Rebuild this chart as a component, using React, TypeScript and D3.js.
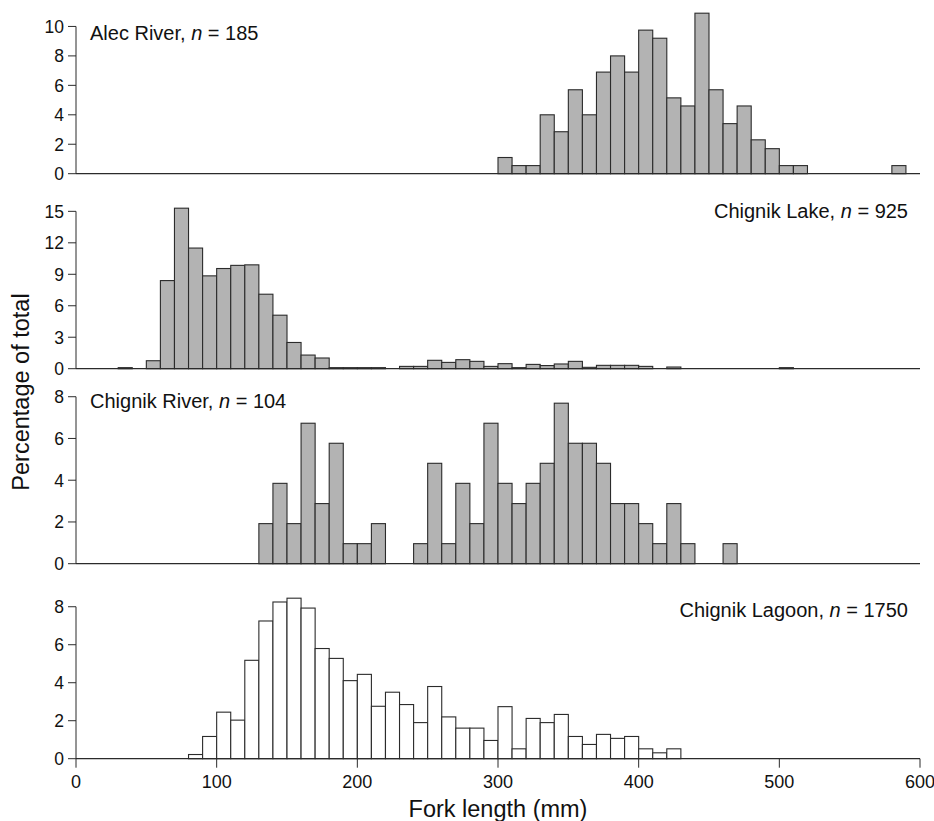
import React from 'react';
import * as d3 from 'd3';

// percent of fish per 10-mm fork-length bin, bins 0-10 ... 590-600
const alecRiver = [
  0, 0, 0, 0, 0, 0, 0, 0, 0, 0,
  0, 0, 0, 0, 0, 0, 0, 0, 0, 0,
  0, 0, 0, 0, 0, 0, 0, 0, 0, 0,
  1.1, 0.55, 0.55, 4.0, 2.85, 5.7, 4.0, 6.9, 8.0, 6.9,
  9.75, 9.2, 5.15, 4.6, 10.9, 5.7, 3.4, 4.6, 2.3, 1.7,
  0.55, 0.55, 0, 0, 0, 0, 0, 0, 0.55, 0,
];

const chignikLake = [
  0, 0, 0, 0.1, 0, 0.76, 8.4, 15.3, 11.5, 8.85,
  9.55, 9.85, 9.9, 7.1, 5.1, 2.5, 1.3, 1.02, 0.1, 0.1,
  0.1, 0.1, 0, 0.22, 0.22, 0.8, 0.6, 0.86, 0.7, 0.22,
  0.48, 0.1, 0.41, 0.3, 0.45, 0.7, 0.13, 0.32, 0.32, 0.32,
  0.22, 0, 0.16, 0, 0, 0, 0, 0, 0, 0,
  0.1, 0, 0, 0, 0, 0, 0, 0, 0, 0,
];

const chignikRiver = [
  0, 0, 0, 0, 0, 0, 0, 0, 0, 0,
  0, 0, 0, 1.92, 3.85, 1.92, 6.73, 2.88, 5.77, 0.96,
  0.96, 1.92, 0, 0, 0.96, 4.81, 0.96, 3.85, 1.92, 6.73,
  3.85, 2.88, 3.85, 4.81, 7.69, 5.77, 5.77, 4.81, 2.88, 2.88,
  1.92, 0.96, 2.88, 0.96, 0, 0, 0.96, 0, 0, 0,
  0, 0, 0, 0, 0, 0, 0, 0, 0, 0,
];

const chignikLagoon = [
  0, 0, 0, 0, 0, 0, 0, 0, 0.22, 1.17,
  2.45, 2.03, 5.18, 7.25, 8.25, 8.45, 7.93, 5.8, 5.28, 4.11,
  4.44, 2.76, 3.5, 2.85, 1.9, 3.8, 2.2, 1.61, 1.61, 0.96,
  2.74, 0.52, 2.12, 1.9, 2.33, 1.17, 0.75, 1.28, 1.07, 1.17,
  0.52, 0.31, 0.52, 0, 0, 0, 0, 0, 0, 0,
  0, 0, 0, 0, 0, 0, 0, 0, 0, 0,
];

const binWidth = 10;
const xTicks = [0, 100, 200, 300, 400, 500, 600];

const panels = [
  { name: 'Alec River', n: 185, values: alecRiver, ticks: [0, 2, 4, 6, 8, 10], fill: '#b3b3b3', align: 'left', labelY: 31 },
  { name: 'Chignik Lake', n: 925, values: chignikLake, ticks: [0, 3, 6, 9, 12, 15], fill: '#b3b3b3', align: 'right', labelY: 14 },
  { name: 'Chignik River', n: 104, values: chignikRiver, ticks: [0, 2, 4, 6, 8], fill: '#b3b3b3', align: 'left', labelY: 9 },
  { name: 'Chignik Lagoon', n: 1750, values: chignikLagoon, ticks: [0, 2, 4, 6, 8], fill: '#ffffff', align: 'right', labelY: 23 },
];

const W = 934;
const H = 821;
const firstBase = 173.7;
const panelStep = 195;
const panelH = 165;
const font = '"Liberation Sans", Arial, Helvetica, sans-serif';
const ink = '#2b2b2b';

export default function App() {
  const x = d3.scaleLinear().domain([0, 600]).range([76, 920]);
  const bottom = firstBase + 3 * panelStep;

  return (
    <svg width={W} height={H} style={{ position: 'absolute', left: 0, top: 0, background: '#fff' }}
      fontFamily={font}>
      {panels.map((p, pi) => {
        const base = firstBase + pi * panelStep;
        const y = d3.scaleLinear()
          .domain([0, (d3.max(p.values) as number) * 1.028])
          .range([base, base - panelH]);
        const top = base - panelH;
        const tLast = p.ticks[p.ticks.length - 1];
        return (
          <g key={p.name}>
            {p.values.map((v, i) => v > 0 && (
              <rect key={i}
                x={x(i * binWidth)} y={y(v)}
                width={x((i + 1) * binWidth) - x(i * binWidth)}
                height={y(0) - y(v)}
                fill={p.fill} stroke={ink} strokeWidth={1.1} />
            ))}
            {/* baseline */}
            <line x1={x(0)} x2={x(600)} y1={y(0)} y2={y(0)} stroke={ink} strokeWidth={1.2} />
            {/* y axis */}
            <line x1={x(0)} x2={x(0)} y1={y(0)} y2={y(tLast)} stroke={ink} strokeWidth={1} />
            {p.ticks.map(t => (
              <g key={t}>
                <line x1={x(0) - 8} x2={x(0)} y1={y(t)} y2={y(t)} stroke={ink} strokeWidth={1} />
                <text x={x(0) - 12} y={y(t)} dy="0.36em" textAnchor="end" fontSize={17.5} fill="#111">{t}</text>
              </g>
            ))}
            <text
              x={p.align === 'left' ? 90 : 908}
              y={top + p.labelY}
              textAnchor={p.align === 'left' ? 'start' : 'end'}
              fontSize={20} fill="#111">
              {p.name}, <tspan fontStyle="italic">n</tspan> = {p.n}
            </text>
          </g>
        );
      })}
      {xTicks.map(t => (
        <g key={t}>
          <line x1={x(t)} x2={x(t)} y1={bottom} y2={bottom + 9} stroke={ink} strokeWidth={1} />
          <text x={x(t)} y={bottom + 29} textAnchor="middle" fontSize={18} fill="#111">{t}</text>
        </g>
      ))}
      <text x={498} y={817} textAnchor="middle" fontSize={23.5} fill="#111">Fork length (mm)</text>
      <text transform={`translate(29,392) rotate(-90)`} textAnchor="middle" fontSize={23.5} fill="#111">Percentage of total</text>
    </svg>
  );
}
